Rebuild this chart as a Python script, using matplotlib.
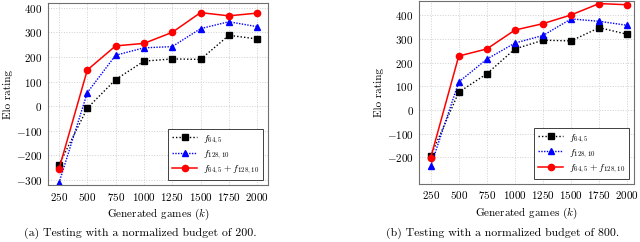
import numpy as np
import matplotlib
matplotlib.use('Agg')
import matplotlib.pyplot as plt

plt.rcParams['font.family'] = 'serif'
plt.rcParams['font.serif'] = ['cmr10']
plt.rcParams['mathtext.fontset'] = 'cm'
plt.rcParams['axes.formatter.use_mathtext'] = True

games = [250, 500, 750, 1000, 1250, 1500, 1750, 2000]

# бюджет 200
a_f64 = [-238, -8, 108, 183, 192, 190, 288, 273]
a_f128 = [-312, 55, 207, 237, 242, 315, 343, 323]
a_both = [-255, 147, 245, 255, 300, 380, 367, 378]

# бюджет 800
b_f64 = [-195, 75, 153, 258, 295, 292, 348, 320]
b_f128 = [-238, 118, 215, 283, 315, 385, 375, 358]
b_both = [-203, 228, 258, 338, 365, 402, 450, 445]

labels = [r'$f_{64,5}$', r'$f_{128,10}$', r'$f_{64,5}+f_{128,10}$']
captions = ['(a) Testing with a normalized budget of 200.',
            '(b) Testing with a normalized budget of 800.']

fig = plt.figure(figsize=(6.4, 2.42), dpi=100)
ax1 = fig.add_axes([0.075, 0.2355, 0.344, 0.752])
ax2 = fig.add_axes([0.655, 0.24, 0.336, 0.756])


def draw(ax, f64, f128, both, ylim, yticks, xlim):
    ax.plot(games, f64, color='black', linestyle=(0, (1, 1.5)), marker='s',
            markersize=4.5, linewidth=1.0, label=labels[0])
    ax.plot(games, f128, color='blue', linestyle=(0, (1, 1)), marker='^',
            markersize=4.5, linewidth=1.0, label=labels[1])
    ax.plot(games, both, color='red', linestyle='-', marker='o',
            markersize=4.5, linewidth=1.1, label=labels[2])
    ax.set_xlim(*xlim)
    ax.set_ylim(*ylim)
    ax.set_xticks(games)
    ax.set_yticks(yticks)
    ax.tick_params(labelsize=8, length=0, pad=4)
    ax.grid(True, color='#d0d0d0', linestyle=':', linewidth=0.7)
    for s in ax.spines.values():
        s.set_color('#707070')
        s.set_linewidth(0.8)
    ax.set_xlabel(r'Generated games $(k)$', fontsize=8, labelpad=3)
    ax.set_ylabel('Elo rating', fontsize=8, labelpad=2)
    leg = ax.legend(loc='lower right', fontsize=7, fancybox=False,
                    edgecolor='#404040', framealpha=1, handlelength=2.6,
                    borderaxespad=0.5, labelspacing=0.25, handletextpad=0.6)
    leg.get_frame().set_linewidth(0.7)


draw(ax1, a_f64, a_f128, a_both, (-320, 419), range(-300, 401, 100), (153, 2097))
draw(ax2, b_f64, b_f128, b_both, (-313, 461), range(-200, 401, 100), (148, 2062))

fig.text(140 / 640, 1 - 233 / 242, captions[0], ha='center', va='center', fontsize=8.5)
fig.text(503 / 640, 1 - 233 / 242, captions[1], ha='center', va='center', fontsize=8.5)

fig.savefig('out.png', dpi=100)
